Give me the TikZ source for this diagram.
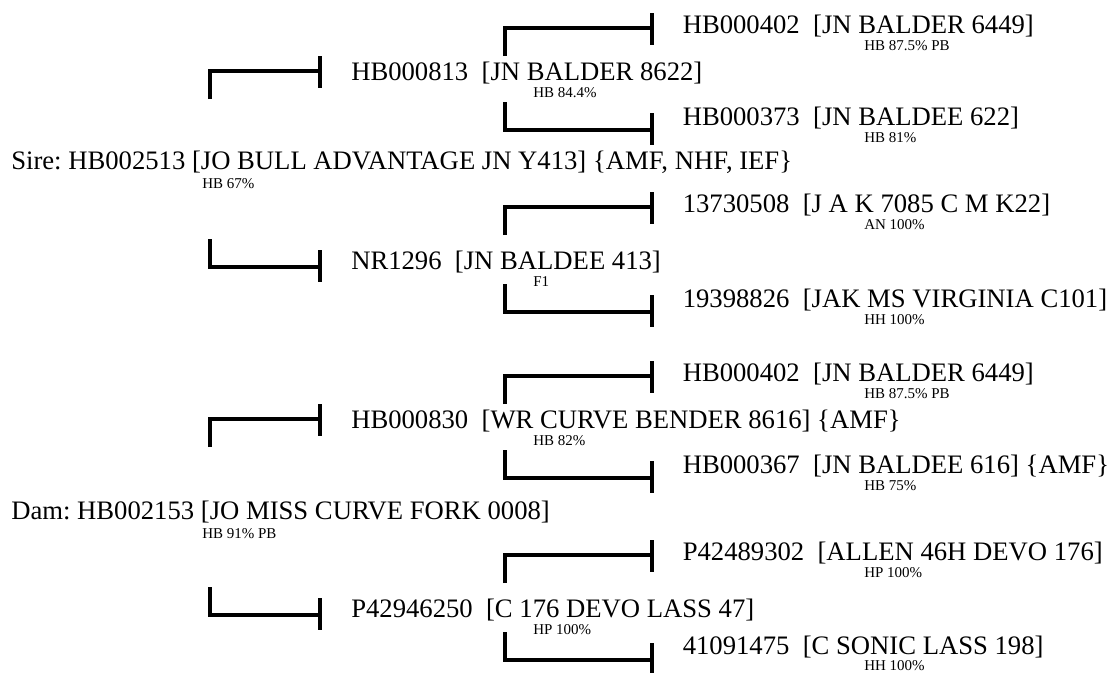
\documentclass[tikz,border=0pt]{standalone}
\usepackage{fontspec}
\setmainfont{Liberation Serif}
\newcommand\brTop[3]{%
  \draw[brline] (#1,#3+28) -- (#1,#3) -- (#2,#3);
  \draw[brtick] (#2,#3-15) -- (#2,#3+17);}
\newcommand\brBot[3]{%
  \draw[brline] (#1,#3-28) -- (#1,#3) -- (#2,#3);
  \draw[brtick] (#2,#3-17) -- (#2,#3+15);}
\begin{document}
\frenchspacing
\begin{tikzpicture}[x=0.75pt,y=-0.75pt,
  lbl/.style={anchor=base west,inner sep=0pt,font=\fontsize{20}{24}\selectfont},
  sub/.style={anchor=base west,inner sep=0pt,font=\fontsize{11.25}{13}\selectfont},
  brline/.style={line width=3.4pt,line join=miter},
  brtick/.style={line width=2.6pt}]
\useasboundingbox[fill=white] (0,0) rectangle (1109,672);
% level 0
\node[lbl] (sire) at (11,169) {Sire: HB002513 [JO BULL ADVANTAGE JN Y413] \{AMF, NHF, IEF\}};
\node[sub] (sires) at (202,188) {HB 67\%};
\node[lbl] (dam) at (11,519) {Dam: HB002153 [JO MISS CURVE FORK 0008]};
\node[sub] (dams) at (202,538) {HB 91\% PB};
% level 1
\node[lbl] (s) at (351,80) {HB000813\ \ [JN BALDER 8622]};
\node[sub] (ss) at (533,97) {HB 84.4\%};
\node[lbl] (d) at (351,269) {NR1296\ \ [JN BALDEE 413]};
\node[sub] (ds) at (533,286) {F1};
\node[lbl] (ms) at (351,428) {HB000830\ \ [WR CURVE BENDER 8616] \{AMF\}};
\node[sub] (mss) at (533,445) {HB 82\%};
\node[lbl] (md) at (351,617) {P42946250\ \ [C 176 DEVO LASS 47]};
\node[sub] (mds) at (533,634) {HP 100\%};
% level 2
\node[lbl] (a1) at (682.5,33) {HB000402\ \ [JN BALDER 6449]};
\node[sub] (a1s) at (864,50) {HB 87.5\% PB};
\node[lbl] (a2) at (682.5,125) {HB000373\ \ [JN BALDEE 622]};
\node[sub] (a2s) at (864,142) {HB 81\%};
\node[lbl] (a3) at (682.5,212) {13730508\ \ [J A K 7085 C M K22]};
\node[sub] (a3s) at (864,229) {AN 100\%};
\node[lbl] (a4) at (682.5,307) {19398826\ \ [JAK MS VIRGINIA C101]};
\node[sub] (a4s) at (864,324) {HH 100\%};
\node[lbl] (a5) at (682.5,381) {HB000402\ \ [JN BALDER 6449]};
\node[sub] (a5s) at (864,398) {HB 87.5\% PB};
\node[lbl] (a6) at (682.5,473) {HB000367\ \ [JN BALDEE 616] \{AMF\}};
\node[sub] (a6s) at (864,490) {HB 75\%};
\node[lbl] (a7) at (682.5,560) {P42489302\ \ [ALLEN 46H DEVO 176]};
\node[sub] (a7s) at (864,577) {HP 100\%};
\node[lbl] (a8) at (682.5,654) {41091475\ \ [C SONIC LASS 198]};
\node[sub] (a8s) at (864,670) {HH 100\%};
% brackets level 1
\brTop{210}{320}{71}
\brBot{210}{320}{267}
\brTop{210}{320}{419}
\brBot{210}{320}{615}
% brackets level 2
\brTop{505}{652}{28}
\brBot{505}{652}{130}
\brTop{505}{652}{207}
\brBot{505}{652}{312}
\brTop{505}{652}{376}
\brBot{505}{652}{478}
\brTop{505}{652}{555}
\brBot{505}{652}{660}
\end{tikzpicture}
\end{document}
